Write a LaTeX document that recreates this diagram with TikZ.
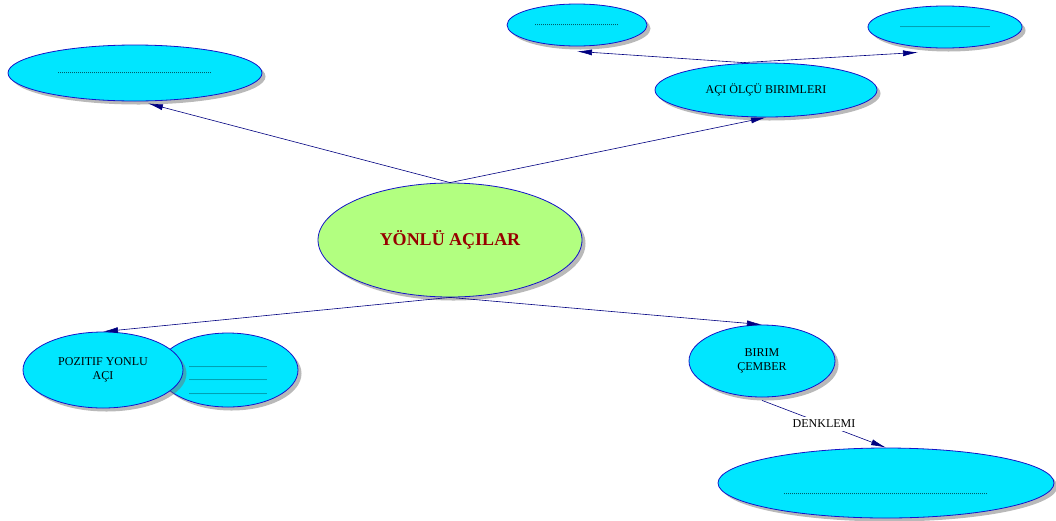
\documentclass[tikz,border=0pt]{standalone}
\usepackage{fontspec}
\setmainfont{Liberation Serif}
\usepackage{tikz}
\usetikzlibrary{shapes.geometric, arrows.meta, positioning, calc, shadows}
\definecolor{bubblecyan}{RGB}{0, 230, 255}
\definecolor{bubblegreen}{RGB}{178, 255, 128}
\definecolor{rimblue}{RGB}{20, 20, 200}
\definecolor{linknavy}{RGB}{0, 0, 128}
\definecolor{titlered}{RGB}{150, 0, 0}
\newcommand{\blankline}[1]{{\fontsize{8}{8}\selectfont\makebox[#1]{\leaders\hbox to 2pt{\hss.\hss}\hfill}}}

\begin{document}
\begin{tikzpicture}[
    x=1pt, y=-1pt,
    every node/.style={font=\fontsize{12}{14.5}\selectfont, text=black},
    bubble/.style={ellipse, draw=rimblue, line width=0.8pt, fill=bubblecyan, inner sep=0pt, align=center,
                   drop shadow={shadow xshift=3.5pt, shadow yshift=-3.5pt, fill=black!55}},
    link/.style={-{Latex[length=15pt, width=6pt]}, color=linknavy, line width=0.6pt}
]
\useasboundingbox (0,0) rectangle (1056,520);

% Nodes
\node[bubble, minimum width=140pt, minimum height=74pt] (extra) at (228,370)
    {\rule{0pt}{22pt}\blankline{78pt}\\[-1pt]\blankline{78pt}\\[-1pt]\blankline{78pt}};
\node[bubble, minimum width=160pt, minimum height=76pt] (pozitif) at (103,370) {POZITIF YONLU\\AÇI};
\node[bubble, fill=bubblegreen, minimum width=264pt, minimum height=114pt] (main) at (450,240)
    {\fontsize{18}{20}\selectfont\bfseries\color{titlered}YÖNLÜ AÇILAR};
\node[bubble, minimum width=254pt, minimum height=56pt] (note) at (135,73) {\blankline{155pt}};
\node[bubble, minimum width=222pt, minimum height=54pt] (olcu) at (766,90) {AÇI ÖLÇÜ BIRIMLERI};
\node[bubble, minimum width=140pt, minimum height=42pt] (unitA) at (577,25) {\blankline{85pt}};
\node[bubble, minimum width=154pt, minimum height=42pt] (unitB) at (945,27) {\blankline{90pt}};
\node[bubble, minimum width=146pt, minimum height=72pt] (birim) at (762,361) {BIRIM\\ÇEMBER};
\node[bubble, minimum width=336pt, minimum height=70pt] (eqn) at (886,483)
    {\\[8pt]\blankline{205pt}};

% Edges
\draw[link] (main.north) -- ([xshift=13pt, yshift=-2pt]note.south);
\draw[link] (main.north) -- (olcu.south);
\draw[link] ([xshift=-23pt]olcu.north) -- ([yshift=-5pt]unitA.south);
\draw[link] ([xshift=-23pt]olcu.north) -- ([xshift=-27pt, yshift=-4pt]unitB.south);
\draw[link] (main.south) -- (pozitif.north);
\draw[link] (main.south) -- (birim.north);
\draw[link] ([yshift=-3pt]birim.south) -- node[fill=white, inner sep=3pt] (denk) {DENKLEMI} (eqn.north);

\end{tikzpicture}
\end{document}
